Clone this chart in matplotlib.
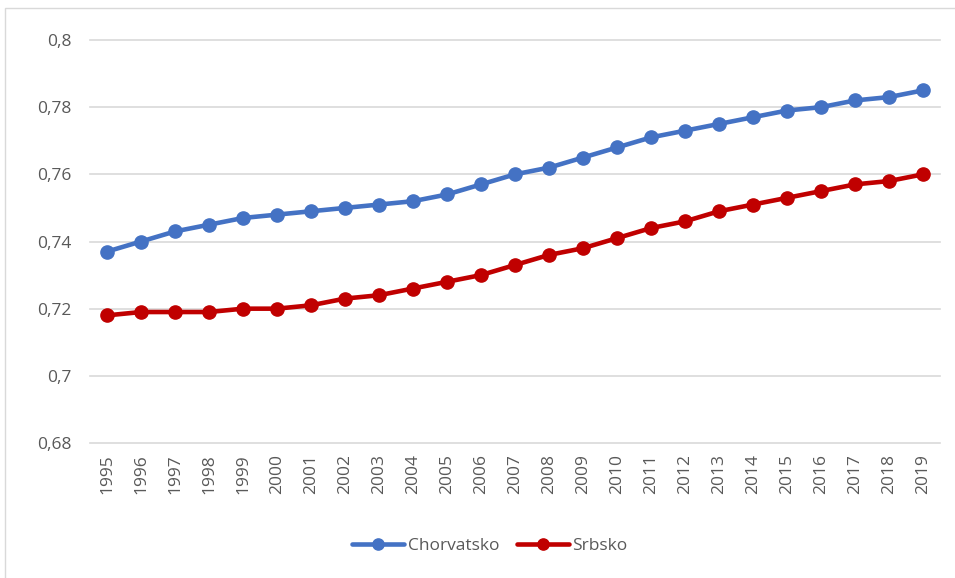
import matplotlib
matplotlib.use("Agg")
import matplotlib.pyplot as plt
from matplotlib.patches import Rectangle
from matplotlib.ticker import FixedLocator

years = [str(y) for y in range(1995, 2020)]
chorvatsko = [0.737, 0.740, 0.743, 0.745, 0.747, 0.748, 0.749, 0.750, 0.751, 0.752,
              0.754, 0.757, 0.760, 0.762, 0.765, 0.768, 0.771, 0.773, 0.775, 0.777,
              0.779, 0.780, 0.782, 0.783, 0.785]
srbsko = [0.718, 0.719, 0.719, 0.719, 0.720, 0.720, 0.721, 0.723, 0.724, 0.726,
          0.728, 0.730, 0.733, 0.736, 0.738, 0.741, 0.744, 0.746, 0.749, 0.751,
          0.753, 0.755, 0.757, 0.758, 0.760]
yticks = [0.68, 0.70, 0.72, 0.74, 0.76, 0.78, 0.80]
ytick_labels = ["0,68", "0,7", "0,72", "0,74", "0,76", "0,78", "0,8"]

plt.rcParams['font.family'] = ['Open Sans', 'DejaVu Sans']

fig = plt.figure(figsize=(9.55, 5.78), dpi=100)
fig.patches.append(Rectangle((5/955, -0.05), 1.1, 1 - 8/578 + 0.05,
                             transform=fig.transFigure, fill=False,
                             edgecolor='#D9D9D9', linewidth=1.0))
ax = fig.add_axes([90/955, 1 - 443/578, 850/955, (443 - 40)/578])

x = list(range(len(years)))
ax.plot(x, chorvatsko, color='#4472C4', linewidth=3.3, marker='o',
        markersize=9.5, label='Chorvatsko', solid_capstyle='round')
ax.plot(x, srbsko, color='#C00000', linewidth=3.3, marker='o',
        markersize=9.5, label='Srbsko', solid_capstyle='round')

ax.set_xlim(-0.5, len(years) - 0.5)
ax.set_ylim(0.68, 0.80)
ax.yaxis.set_major_locator(FixedLocator(yticks))
ax.set_yticklabels(ytick_labels)
ax.set_xticks(x)
ax.set_xticklabels(years, rotation=90)
ax.grid(axis='y', color='#D9D9D9', linewidth=1.2)
for gl in ax.yaxis.get_gridlines():
    gl.set_clip_on(False)
ax.set_axisbelow(True)
for s in ax.spines.values():
    s.set_visible(False)
ax.tick_params(axis='both', length=0, labelsize=12.5, labelcolor='#595959')
ax.tick_params(axis='y', pad=13)
ax.tick_params(axis='x', pad=8)

leg = fig.legend(loc='center', bbox_to_anchor=(490/955, 1 - 546/578), ncol=2,
                 frameon=False, fontsize=12.5, handlelength=3.0,
                 columnspacing=1.0, handletextpad=0.2, markerscale=0.85)
for t in leg.get_texts():
    t.set_color('#595959')

fig.savefig('out.png', dpi=100)
